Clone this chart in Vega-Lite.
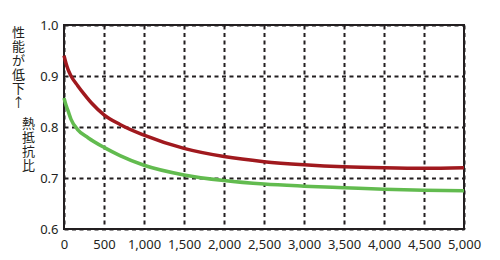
{
  "$schema": "https://vega.github.io/schema/vega-lite/v6.json",
  "width": 400,
  "height": 204,
  "autosize": {"type": "none"},
  "padding": {"left": 64, "top": 25, "right": 36, "bottom": 31},
  "background": "white",
  "config": {
    "view": {"stroke": "#231f20", "strokeWidth": 2},
    "axis": {
      "labelFont": "Noto Sans",
      "labelFontSize": 13,
      "labelColor": "#231f20",
      "domain": false,
      "ticks": false,
      "gridColor": "#231f20",
      "gridDash": [4, 3.5],
      "gridWidth": 2,
      "gridOpacity": 1
    }
  },
  "data": {
    "values": [
      {"x": 0, "y": 0.940, "s": "A"},
      {"x": 25, "y": 0.925, "s": "A"},
      {"x": 50, "y": 0.913, "s": "A"},
      {"x": 88, "y": 0.900, "s": "A"},
      {"x": 171, "y": 0.881, "s": "A"},
      {"x": 254, "y": 0.864, "s": "A"},
      {"x": 350, "y": 0.846, "s": "A"},
      {"x": 500, "y": 0.824, "s": "A"},
      {"x": 700, "y": 0.805, "s": "A"},
      {"x": 1000, "y": 0.784, "s": "A"},
      {"x": 1500, "y": 0.758, "s": "A"},
      {"x": 2000, "y": 0.742, "s": "A"},
      {"x": 2500, "y": 0.732, "s": "A"},
      {"x": 3000, "y": 0.726, "s": "A"},
      {"x": 3500, "y": 0.722, "s": "A"},
      {"x": 4000, "y": 0.720, "s": "A"},
      {"x": 4500, "y": 0.719, "s": "A"},
      {"x": 5000, "y": 0.720, "s": "A"},
      {"x": 0, "y": 0.857, "s": "B"},
      {"x": 25, "y": 0.843, "s": "B"},
      {"x": 50, "y": 0.832, "s": "B"},
      {"x": 88, "y": 0.815, "s": "B"},
      {"x": 170, "y": 0.795, "s": "B"},
      {"x": 300, "y": 0.779, "s": "B"},
      {"x": 500, "y": 0.760, "s": "B"},
      {"x": 700, "y": 0.744, "s": "B"},
      {"x": 1000, "y": 0.725, "s": "B"},
      {"x": 1500, "y": 0.706, "s": "B"},
      {"x": 2000, "y": 0.695, "s": "B"},
      {"x": 2500, "y": 0.688, "s": "B"},
      {"x": 3000, "y": 0.684, "s": "B"},
      {"x": 3500, "y": 0.681, "s": "B"},
      {"x": 4000, "y": 0.678, "s": "B"},
      {"x": 4500, "y": 0.676, "s": "B"},
      {"x": 5000, "y": 0.675, "s": "B"}
    ]
  },
  "resolve": {"axis": {"y": "independent"}},
  "encoding": {
    "x": {
      "field": "x", "type": "quantitative",
      "scale": {"domain": [0, 5000], "nice": false},
      "axis": {"values": [0,500,1000,1500,2000,2500,3000,3500,4000,4500,5000], "format": ",d", "labelPadding": 9, "title": null, "labelFlush": false}
    }
  },
  "layer": [
    {
      "mark": {"type": "line", "strokeWidth": 3.5, "interpolate": "monotone"},
      "encoding": {
        "y": {
          "field": "y", "type": "quantitative",
          "scale": {"domain": [0.6, 1.0], "nice": false, "zero": false},
          "axis": {
            "values": [0.6, 0.7, 0.8, 0.9, 1.0], "format": ".1f", "labelPadding": 6,
            "title": ["熱", "抵", "抗", "比"],
            "titleFont": "Noto Sans CJK JP", "titleFontSize": 13, "titleFontWeight": "normal",
            "titleColor": "#231f20", "titleAngle": 0, "titleAlign": "center", "titleBaseline": "top",
            "titleLineHeight": 14, "titleX": -36, "titleY": 92
          }
        },
        "color": {
          "field": "s", "type": "nominal",
          "scale": {"domain": ["A", "B"], "range": ["#a0191e", "#62bb4f"]},
          "legend": null
        }
      }
    },
    {
      "mark": {"type": "line", "opacity": 0},
      "encoding": {
        "y": {
          "field": "y", "type": "quantitative",
          "axis": {
            "orient": "left", "labels": false, "grid": false, "domain": false, "ticks": false,
            "title": ["性", "能", "が", "低", "下", "↑"],
            "titleFont": "Noto Sans CJK JP", "titleFontSize": 13, "titleFontWeight": "normal",
            "titleColor": "#231f20", "titleAngle": 0, "titleAlign": "center", "titleBaseline": "top",
            "titleLineHeight": 14, "titleX": -46, "titleY": 1
          }
        },
        "detail": {"field": "s"}
      }
    }
  ]
}
